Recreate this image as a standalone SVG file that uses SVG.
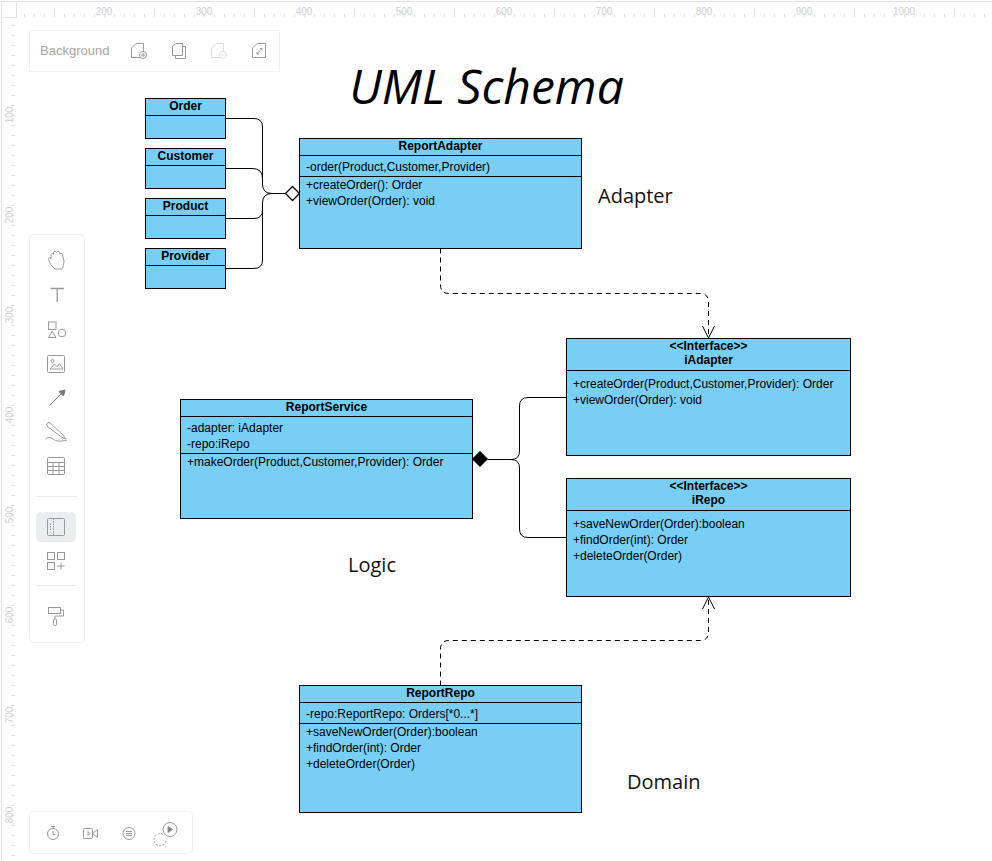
<svg xmlns="http://www.w3.org/2000/svg" width="992" height="861" viewBox="0 0 992 861">
<style>
text{font-family:"Liberation Sans",Arial,sans-serif;fill:#000}
.box{fill:#79cef5;stroke:#000;stroke-width:1}
.sep{stroke:#000;stroke-width:1;fill:none}
.h{font-size:12px;font-weight:bold;text-anchor:middle}
.m{font-size:12px}
.big{font-family:"Open Sans","Noto Sans",sans-serif;font-size:20px;fill:#111}
.conn{fill:none;stroke:#000;stroke-width:1}
.dash{stroke-dasharray:5 4}
.rl{font-size:10px;fill:#cfcfcf}
.tick{stroke:#e4e4e4;stroke-width:1;fill:none}
.panel{fill:#fff;stroke:#f0f2f2;stroke-width:1}
.ic{fill:none;stroke:#9a9a9a;stroke-width:1}
</style>
<rect width="992" height="861" fill="#fff"/>
<g id="ruler">
<path class="tick" d="M0 1.5H992M1.5 1V861M2 17.5H16.5V2"/>
<path class="tick" d="M24.5 14V17M34.5 14V17M44.5 14V17M54.5 8V17M64.5 14V17M74.5 14V17M84.5 14V17M94.5 14V17M104.5 14V17M114.5 14V17M124.5 14V17M134.5 14V17M144.5 14V17M154.5 8V17M164.5 14V17M174.5 14V17M184.5 14V17M194.5 14V17M204.5 14V17M214.5 14V17M224.5 14V17M234.5 14V17M244.5 14V17M254.5 8V17M264.5 14V17M274.5 14V17M284.5 14V17M294.5 14V17M304.5 14V17M314.5 14V17M324.5 14V17M334.5 14V17M344.5 14V17M354.5 8V17M364.5 14V17M374.5 14V17M384.5 14V17M394.5 14V17M404.5 14V17M414.5 14V17M424.5 14V17M434.5 14V17M444.5 14V17M454.5 8V17M464.5 14V17M474.5 14V17M484.5 14V17M494.5 14V17M504.5 14V17M514.5 14V17M524.5 14V17M534.5 14V17M544.5 14V17M554.5 8V17M564.5 14V17M574.5 14V17M584.5 14V17M594.5 14V17M604.5 14V17M614.5 14V17M624.5 14V17M634.5 14V17M644.5 14V17M654.5 8V17M664.5 14V17M674.5 14V17M684.5 14V17M694.5 14V17M704.5 14V17M714.5 14V17M724.5 14V17M734.5 14V17M744.5 14V17M754.5 8V17M764.5 14V17M774.5 14V17M784.5 14V17M794.5 14V17M804.5 14V17M814.5 14V17M824.5 14V17M834.5 14V17M844.5 14V17M854.5 8V17M864.5 14V17M874.5 14V17M884.5 14V17M894.5 14V17M904.5 14V17M914.5 14V17M924.5 14V17M934.5 14V17M944.5 14V17M954.5 8V17M964.5 14V17M974.5 14V17M984.5 14V17"/>
<path class="tick" d="M11 25.5H15M11 35.5H15M11 45.5H15M11 55.5H15M11 65.5H15M11 75.5H15M11 85.5H15M11 95.5H15M11 105.5H15M11 115.5H15M11 125.5H15M11 135.5H15M11 145.5H15M11 155.5H15M11 165.5H15M11 175.5H15M11 185.5H15M11 195.5H15M11 205.5H15M11 215.5H15M11 225.5H15M11 235.5H15M11 245.5H15M11 255.5H15M11 265.5H15M11 275.5H15M11 285.5H15M11 295.5H15M11 305.5H15M11 315.5H15M11 325.5H15M11 335.5H15M11 345.5H15M11 355.5H15M11 365.5H15M11 375.5H15M11 385.5H15M11 395.5H15M11 405.5H15M11 415.5H15M11 425.5H15M11 435.5H15M11 445.5H15M11 455.5H15M11 465.5H15M11 475.5H15M11 485.5H15M11 495.5H15M11 505.5H15M11 515.5H15M11 525.5H15M11 535.5H15M11 545.5H15M11 555.5H15M11 565.5H15M11 575.5H15M11 585.5H15M11 595.5H15M11 605.5H15M11 615.5H15M11 625.5H15M11 635.5H15M11 645.5H15M11 655.5H15M11 665.5H15M11 675.5H15M11 685.5H15M11 695.5H15M11 705.5H15M11 715.5H15M11 725.5H15M11 735.5H15M11 745.5H15M11 755.5H15M11 765.5H15M11 775.5H15M11 785.5H15M11 795.5H15M11 805.5H15M11 815.5H15M11 825.5H15M11 835.5H15M11 845.5H15M11 855.5H15"/>
<g class="rl" text-anchor="middle">
<text class="rl" x="104" y="15">200</text><text class="rl" x="204" y="15">300</text><text class="rl" x="304" y="15">400</text><text class="rl" x="404" y="15">500</text><text class="rl" x="504" y="15">600</text><text class="rl" x="604" y="15">700</text><text class="rl" x="704" y="15">800</text><text class="rl" x="804" y="15">900</text><text class="rl" x="904" y="15">1000</text>
<text class="rl" transform="translate(13 115) rotate(-90)">100</text><text class="rl" transform="translate(13 215) rotate(-90)">200</text><text class="rl" transform="translate(13 315) rotate(-90)">300</text><text class="rl" transform="translate(13 415) rotate(-90)">400</text><text class="rl" transform="translate(13 515) rotate(-90)">500</text><text class="rl" transform="translate(13 615) rotate(-90)">600</text><text class="rl" transform="translate(13 715) rotate(-90)">700</text><text class="rl" transform="translate(13 815) rotate(-90)">800</text>
</g>
</g>
<g id="toolbar-top">
<rect class="panel" x="29.5" y="30.5" width="250" height="41"/>
<text x="40" y="55" style="font-size:13px;fill:#a6a6a6">Background</text>
<g class="ic"><path d="M131.5 57.5V48L136 43.5H143.5V52M131.5 57.5H140"/><circle cx="143" cy="55" r="3.5"/><path d="M141 55H145M143 53V57"/></g>
<g class="ic"><path d="M172.5 55.5V46L176 43.5H182.500V55.500Z"/><path d="M182.500 46.500H185.500V58.500H175.500V55.500"/></g>
<g class="ic" style="stroke:#dedede"><path d="M211.500 57.500V48L216 43.500H223.500V52M211.500 57.500H220"/><circle cx="223" cy="55" r="3.500"/><path d="M221 55H225"/></g>
<g class="ic"><path d="M252.500 57.500V48L257 43.500H265.500V57.500Z"/><path d="M257 54L262 48.500M260 48.500H262V50.500M257 52V54H259"/></g>
</g>
<g id="toolbar-left">
<rect class="panel" x="29.500" y="234.500" width="55" height="408" rx="4"/>
<g class="ic">
<path d="M52 266C50 264 49 261 48.500 258.500C49 257 50.500 257.500 51 259V254.500C51.500 253 53 253 53.500 254.500V252.500C54 251 56 251 56.500 252.500V252.500C57 251 59 251 59.500 252.500V254C60 253 62 253 62.500 254.500L64 261C64 264 63 267 62 269H55Z"/>
<path d="M50.500 288.500H64M57.200 288.500V302" stroke-width="1.300"/>
<rect x="48.500" y="322" width="7.500" height="7.500"/><path d="M48.500 337.500L52.200 331L56 337.500Z"/><circle cx="62" cy="333" r="3.800"/>
<rect x="47.500" y="355.500" width="17" height="17" rx="1"/><circle cx="52.500" cy="361" r="1.500"/><path d="M50 369L54.500 364L57 366.500L59.500 363.500L63 369Z"/>
<path d="M49.500 405.500L64 391" stroke="#777"/><path d="M59 391.500L65 390L63.500 396Z" fill="#777" stroke="#777"/>
<path d="M46.500 424L49 422L63 435L66 439L61.500 437L47.500 426.500Z"/><path d="M45.500 439C50 434 54 442 59 441C62 441 64 441 67 440"/>
<rect x="47.500" y="457.500" width="17" height="17" rx="1"/><path d="M47.500 462.500H64.500M47.500 466.500H64.500M47.500 470.500H64.500M53 462.500V474.500M59 462.500V474.500"/>
</g>
<path d="M36.500 496.500H77.500M36.500 585.500H77.500" stroke="#eaeaea" fill="none"/>
<rect x="36" y="512" width="40" height="30" rx="5" fill="#ecedef"/>
<g class="ic">
<rect x="47.500" y="518.500" width="17" height="17" rx="1"/><path d="M53.500 518.500V535.500M50.500 523.500V531" stroke-dasharray="1.500 1"/>
<rect x="47.500" y="552.500" width="7" height="7"/><rect x="57.500" y="552.500" width="7" height="7"/><rect x="47.500" y="562.500" width="7" height="7"/><path d="M57 566H64.500M61 562.500V569.500"/>
<rect x="48.500" y="607.500" width="12" height="6"/><path d="M60.500 610H63.500V616H55V619"/><rect x="53.500" y="619" width="3" height="6.500" rx="1"/>
</g>
</g>
<g id="toolbar-bottom">
<rect class="panel" x="29.500" y="811.500" width="163" height="42" rx="4"/>
<g class="ic">
<circle cx="53" cy="834" r="5.500"/><path d="M51 826.500H55M53 826.500V828.500M53 831V834.500H55.500"/>
<rect x="83.500" y="828.500" width="9" height="10" rx="1"/><path d="M88 831.500V835.500L90 833.500Z"/><path d="M93 833L97.500 829.500V837.500L93 834"/>
<circle cx="129" cy="833.500" r="6"/><path d="M126 831.500H132M126 833.500H132M126 835.500H132"/>
<circle cx="170" cy="829.500" r="7"/><path d="M168 826.500V832.500L172.500 829.500Z" fill="#777"/><path d="M163 834.500A6 6 0 1 0 166 839" stroke-dasharray="2 1.500"/>
</g>
</g>
<text id="title" x="486.500" y="104" text-anchor="middle" style="font-family:'Open Sans','Noto Sans',sans-serif;font-style:italic;font-size:48px;fill:#000">UML Schema</text>
<g id="connectors">
<path class="conn" d="M225.500 118.500H254Q262.500 118.500 262.500 127V184Q262.500 193.500 272 193.500H285"/>
<path class="conn" d="M225.500 168.500H252Q262.500 168.500 262.500 178"/>
<path class="conn" d="M225.500 218.500H254Q262.500 218.500 262.500 210"/>
<path class="conn" d="M225.500 268.500H254Q262.500 268.500 262.500 260V203Q262.500 193.500 272 193.500"/>
<path d="M285.500 193.500L292.500 186.500L299.500 193.500L292.500 200.500Z" fill="#fff" stroke="#000" stroke-width="1.300"/>
<path class="conn dash" d="M440.500 248.500V285Q440.500 293.500 449 293.500H700Q708.500 293.500 708.500 302V338"/>
<path class="conn" d="M702.500 326L708.500 338L714.500 326"/>
<path d="M472.500 459L480 451.500L487.500 459L480 466.500Z" fill="#000" stroke="#000"/>
<path class="conn" d="M487.500 459.500H511Q519.500 459.500 519.500 451V406Q519.500 397.500 528 397.500H566.500"/>
<path class="conn" d="M511 459.500Q519.500 459.500 519.500 468V529Q519.500 537.500 528 537.500H566.500"/>
<path class="conn dash" d="M440.500 685.500V649Q440.500 640.500 449 640.500H700Q708.500 640.500 708.500 632V597"/>
<path class="conn" d="M702.500 609L708.500 597L714.500 609"/>
</g>
<g id="order"><rect class="box" x="145.500" y="98.500" width="80" height="40"/><path class="sep" d="M145.500 115.500H225.500"/><text class="h" x="185.500" y="110">Order</text></g>
<g id="customer"><rect class="box" x="145.500" y="148.500" width="80" height="40"/><path class="sep" d="M145.500 165.500H225.500"/><text class="h" x="185.500" y="160">Customer</text></g>
<g id="product"><rect class="box" x="145.500" y="198.500" width="80" height="40"/><path class="sep" d="M145.500 215.500H225.500"/><text class="h" x="185.500" y="210">Product</text></g>
<g id="provider"><rect class="box" x="145.500" y="248.500" width="80" height="40"/><path class="sep" d="M145.500 265.500H225.500"/><text class="h" x="185.500" y="260">Provider</text></g>
<g id="report-adapter"><rect class="box" x="299.500" y="138.500" width="282" height="110"/><path class="sep" d="M299.500 155.500H581.500M299.500 176.500H581.500"/><text class="h" x="440.500" y="150">ReportAdapter</text>
<text class="m" x="306" y="171">-order(Product,Customer,Provider)</text><text class="m" x="306" y="189">+createOrder(): Order</text><text class="m" x="306" y="205">+viewOrder(Order): void</text></g>
<g id="i-adapter"><rect class="box" x="566.500" y="338.500" width="284" height="117"/><path class="sep" d="M566.500 370.500H850.500"/><text class="h" x="708.500" y="350">&lt;&lt;Interface&gt;&gt;</text><text class="h" x="708.500" y="364">iAdapter</text>
<text class="m" x="573" y="388">+createOrder(Product,Customer,Provider): Order</text><text class="m" x="573" y="404">+viewOrder(Order): void</text></g>
<g id="i-repo"><rect class="box" x="566.500" y="478.500" width="284" height="118"/><path class="sep" d="M566.500 510.500H850.500"/><text class="h" x="708.500" y="490">&lt;&lt;Interface&gt;&gt;</text><text class="h" x="708.500" y="504">iRepo</text>
<text class="m" x="573" y="528">+saveNewOrder(Order):boolean</text><text class="m" x="573" y="544">+findOrder(int): Order</text><text class="m" x="573" y="560">+deleteOrder(Order)</text></g>
<g id="report-service"><rect class="box" x="180.500" y="399.500" width="292" height="119"/><path class="sep" d="M180.500 416.500H472.500M180.500 453.500H472.500"/><text class="h" x="326.500" y="411">ReportService</text>
<text class="m" x="187" y="432">-adapter: iAdapter</text><text class="m" x="187" y="448">-repo:iRepo</text><text class="m" x="187" y="466">+makeOrder(Product,Customer,Provider): Order</text></g>
<g id="report-repo"><rect class="box" x="299.500" y="685.500" width="282" height="127"/><path class="sep" d="M299.500 702.500H581.500M299.500 723.500H581.500"/><text class="h" x="440.500" y="697">ReportRepo</text>
<text class="m" x="306" y="718">-repo:ReportRepo: Orders[*0...*]</text><text class="m" x="306" y="736">+saveNewOrder(Order):boolean</text><text class="m" x="306" y="752">+findOrder(int): Order</text><text class="m" x="306" y="768">+deleteOrder(Order)</text></g>
<text class="big" x="598" y="203">Adapter</text>
<text class="big" x="348" y="572">Logic</text>
<text class="big" x="627" y="789">Domain</text>
</svg>
